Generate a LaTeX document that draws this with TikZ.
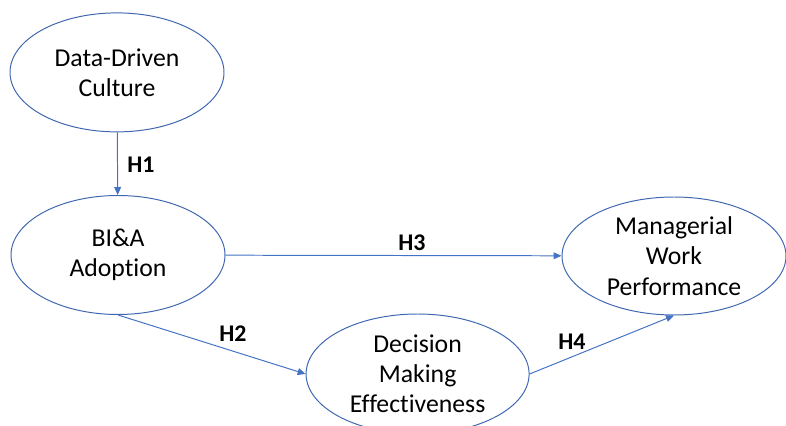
\documentclass[tikz,border=0pt]{standalone}
\usepackage{fontspec}
\setmainfont{Carlito}[Ligatures=NoCommon]
\usetikzlibrary{arrows.meta,shapes.geometric}
\definecolor{modBlue}{HTML}{4472c4}
\definecolor{modEdge}{HTML}{3f67b0}
\tikzset{
  >={Triangle[length=2mm,width=1.7mm]},
  construct/.style={ellipse, draw=modEdge, line width=0.7pt, fill=white,
              minimum width=5.35cm, minimum height=2.975cm, inner sep=0pt,
              align=center, font=\fontsize{18.3}{21.5}\selectfont},
  hyp/.style={font=\fontsize{17}{19}\selectfont\bfseries},
  path/.style={->, draw=modBlue, line width=0.7pt},
}
\begin{document}
\begin{tikzpicture}
        \useasboundingbox (0,0) rectangle (19.65,10.65);
        \node[construct] (ddc) at (2.925,8.84){Data-Driven\\Culture};
        \node[construct] (bia) at (2.95,4.275){BI\&A\\Adoption};
        \node[construct,minimum width=5.6cm,minimum height=2.95cm] (mwp) at (16.85,4.25){Managerial\\Work\\Performance};
        \node[construct,minimum width=5.575cm,minimum height=3cm] (dme) at (10.44,1.3){Decision\\Making\\Effectiveness};
        \node[hyp] (h1) at (3.525,6.525){H1};
        \node[hyp] (h3) at (10.3,4.575){H3};
        \node[hyp] (h2) at (5.825,2.3){H2};
        \node[hyp] (h4) at (14.3,2.1){H4};
        \draw[path](ddc)--(bia);\draw[path](bia)--(mwp);
        \draw[path](bia.south)--(dme.west);\draw[path](dme.east)--(mwp.south);
      \end{tikzpicture}
\end{document}
